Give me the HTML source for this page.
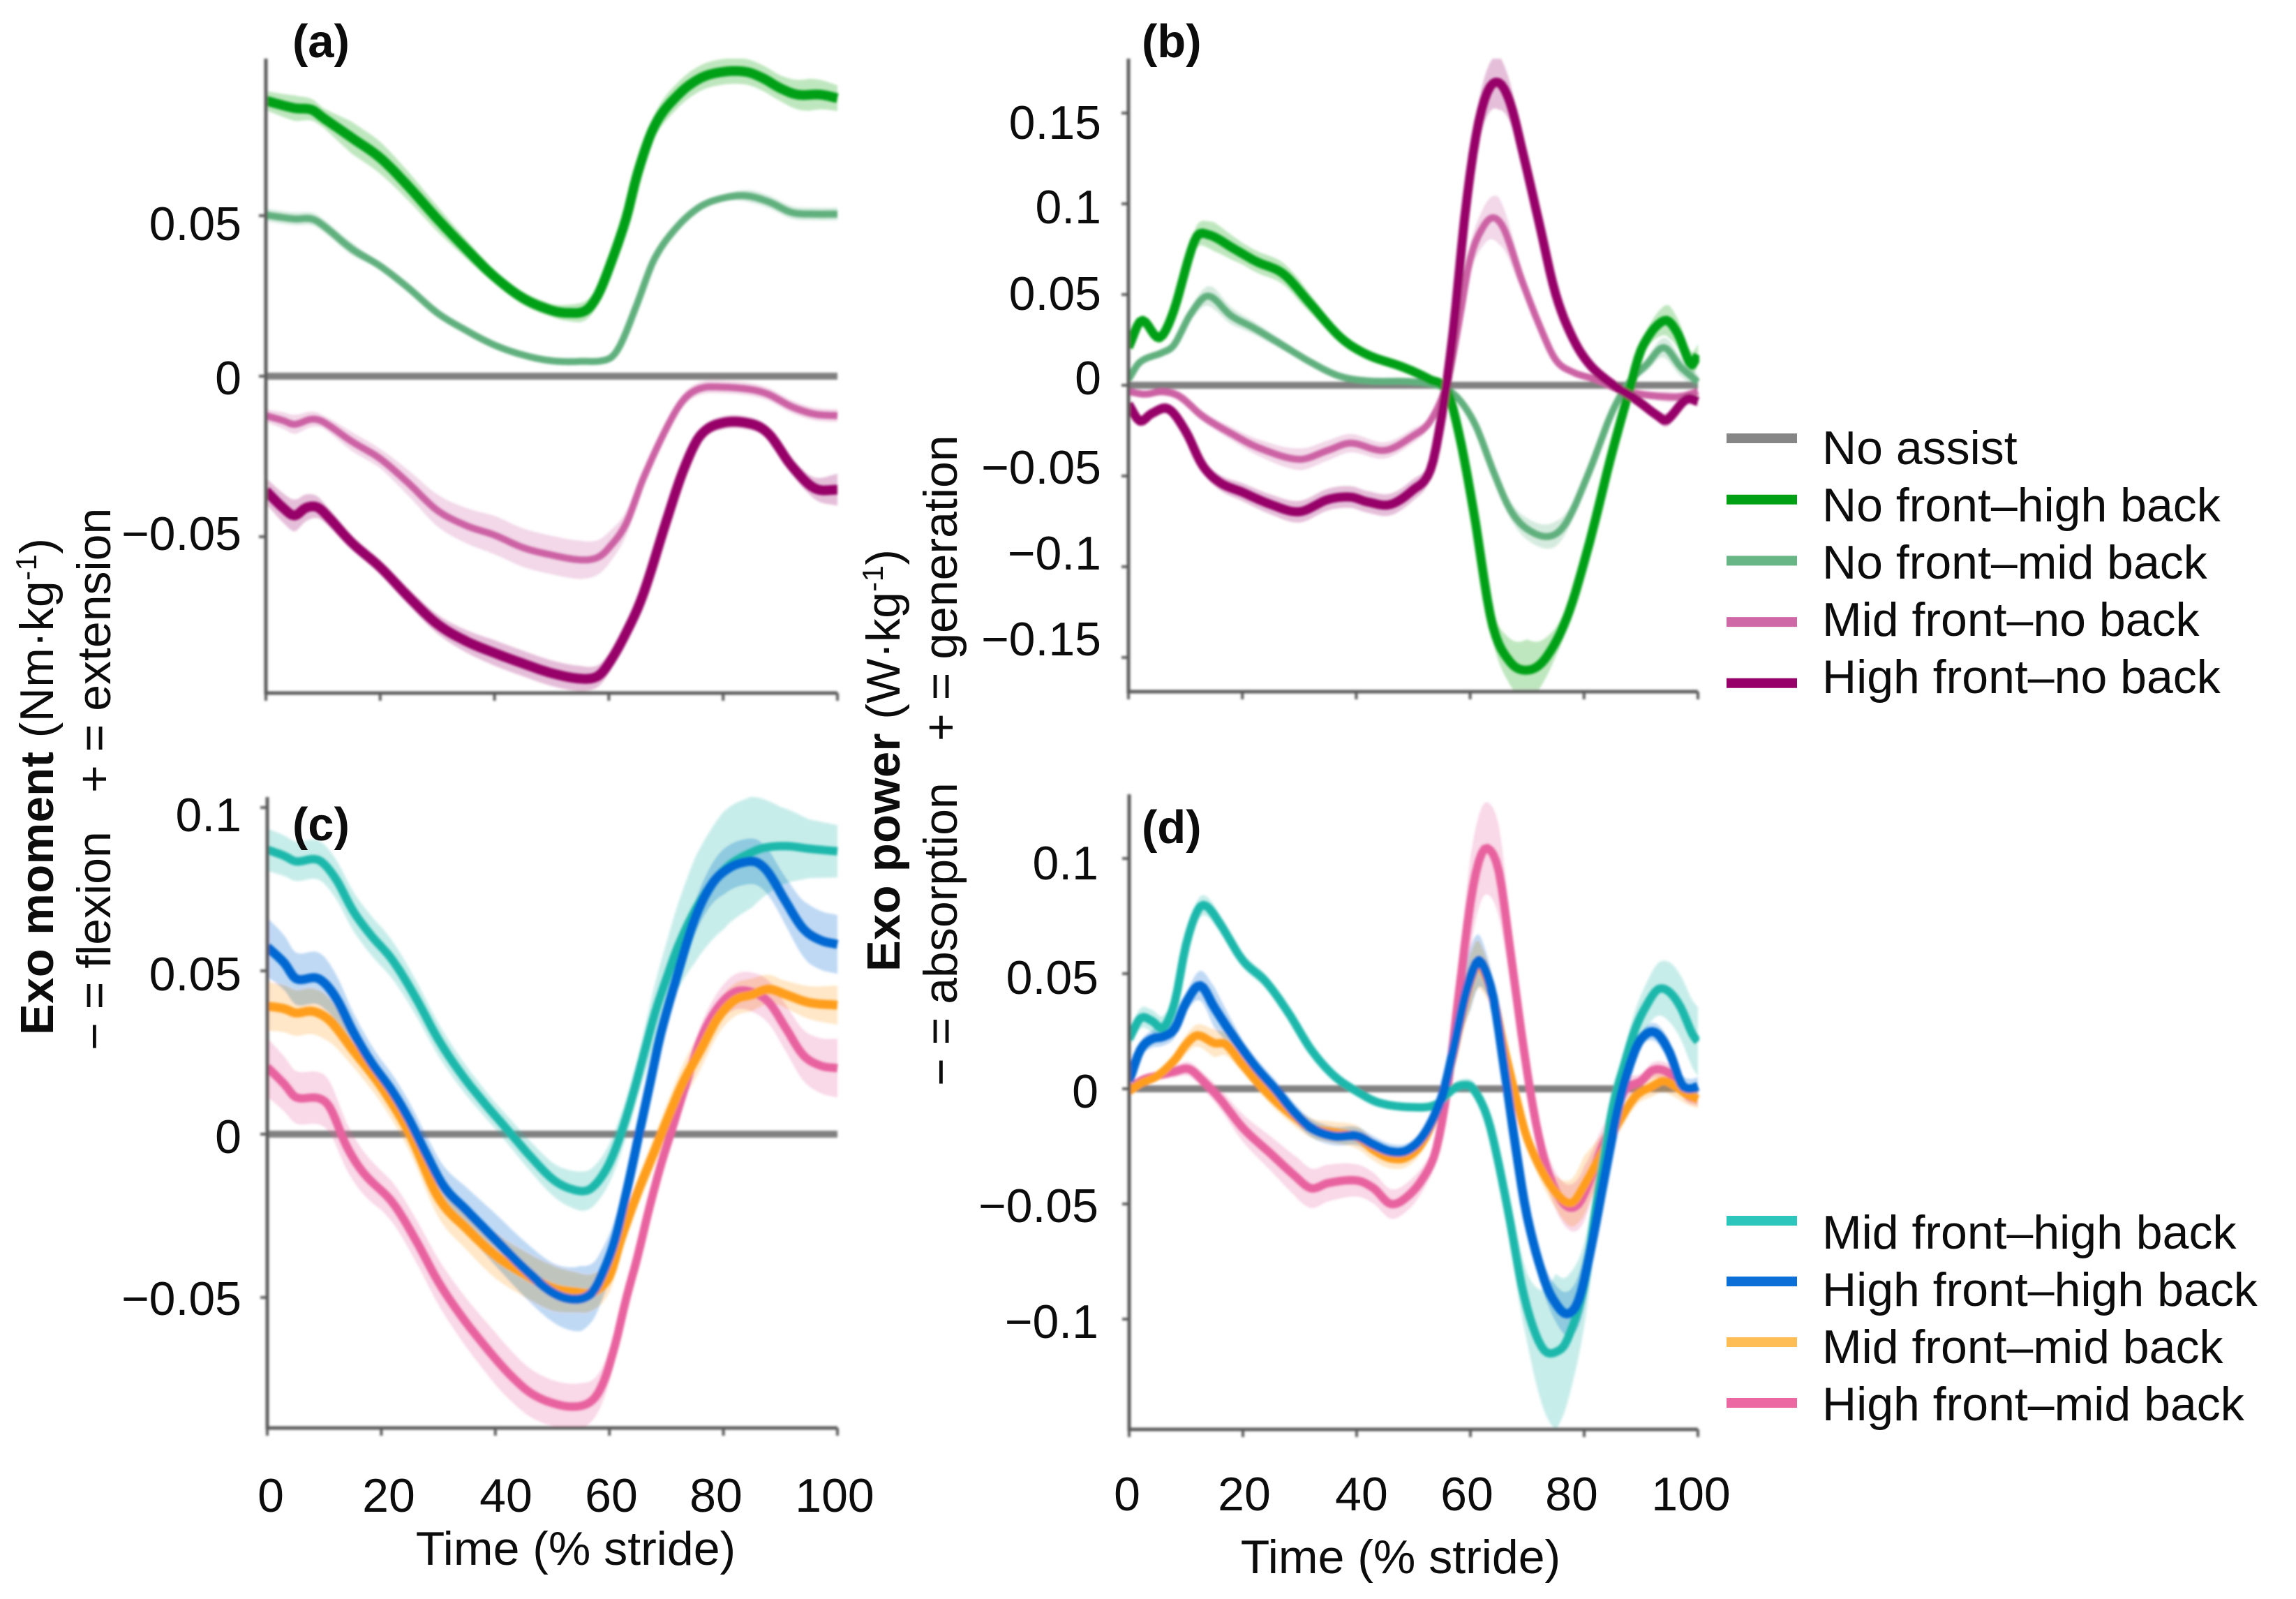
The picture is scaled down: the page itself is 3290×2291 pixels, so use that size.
<!DOCTYPE html>
<html lang="en">
<head>
<meta charset="utf-8">
<title>Exo moment and exo power across the stride</title>
<style>
  html, body { margin: 0; padding: 0; background: #fff; }
  svg { display: block; }
  text { font-family: "Liberation Sans", Arial, sans-serif; fill: #0c0c0c; font-size: 68px; }
  .b { font-weight: 700; font-size: 67px; }
  .band { mix-blend-mode: multiply; }
</style>
</head>
<body>
<svg id="figure" xmlns="http://www.w3.org/2000/svg" width="3290" height="2291" viewBox="0 0 3290 2291">
  <defs>
    <filter id="soft" x="-5%" y="-5%" width="110%" height="110%"><feGaussianBlur stdDeviation="1.5"/></filter>
    <clipPath id="clip-a"><rect x="381" y="84" width="821" height="909"/></clipPath>
    <clipPath id="clip-b"><rect x="1617" y="84" width="818" height="907"/></clipPath>
    <clipPath id="clip-c"><rect x="383" y="1142" width="819" height="904"/></clipPath>
    <clipPath id="clip-d"><rect x="1618" y="1138" width="817" height="910"/></clipPath>
  </defs>
  <rect x="0" y="0" width="3290" height="2291" fill="#fff"/>

  <g id="marks" filter="url(#soft)"></g>

  <g>
    <text class="b" x="419" y="82">(a)</text>
    <text class="b" x="1636" y="82">(b)</text>
    <text class="b" x="419" y="1204">(c)</text>
    <text class="b" x="1636" y="1208">(d)</text>
  </g>

  <g text-anchor="end">
    <text x="346" y="344">0.05</text>
    <text x="346" y="565">0</text>
    <text x="346" y="788">−0.05</text>
  </g>
  <g text-anchor="end">
    <text x="1578" y="199">0.15</text>
    <text x="1578" y="320">0.1</text>
    <text x="1578" y="444">0.05</text>
    <text x="1578" y="565">0</text>
    <text x="1578" y="693">−0.05</text>
    <text x="1578" y="816">−0.1</text>
    <text x="1578" y="939">−0.15</text>
  </g>
  <g text-anchor="end">
    <text x="346" y="1191">0.1</text>
    <text x="346" y="1419">0.05</text>
    <text x="346" y="1652">0</text>
    <text x="346" y="1884">−0.05</text>
  </g>
  <g text-anchor="end">
    <text x="1574" y="1260">0.1</text>
    <text x="1574" y="1424">0.05</text>
    <text x="1574" y="1587">0</text>
    <text x="1574" y="1751">−0.05</text>
    <text x="1574" y="1917">−0.1</text>
  </g>

  <g text-anchor="middle">
    <text x="388" y="2166">0</text>
    <text x="557" y="2166">20</text>
    <text x="725" y="2166">40</text>
    <text x="876" y="2166">60</text>
    <text x="1026" y="2166">80</text>
    <text x="1196" y="2166">100</text>
  </g>
  <g text-anchor="middle">
    <text x="1615" y="2164">0</text>
    <text x="1783" y="2164">20</text>
    <text x="1951" y="2164">40</text>
    <text x="2102" y="2164">60</text>
    <text x="2252" y="2164">80</text>
    <text x="2423" y="2164">100</text>
  </g>
  <text x="825" y="2242" text-anchor="middle" font-size="68.5">Time (% stride)</text>
  <text x="2007" y="2254" text-anchor="middle" font-size="68.5">Time (% stride)</text>

  <text transform="translate(76,1483) rotate(-90)" x="0" y="0" textLength="712"><tspan class="b">Exo moment</tspan> (Nm·kg<tspan font-size="42" dy="-24">-1</tspan><tspan dy="24">)</tspan></text>
  <text transform="translate(158,1505) rotate(-90)" x="0" y="0">− = flexion</text>
  <text transform="translate(158,1136) rotate(-90)" x="0" y="0">+ = extension</text>
  <text transform="translate(1289,1392) rotate(-90)" x="0" y="0" textLength="605"><tspan class="b">Exo power</tspan> (W·kg<tspan font-size="42" dy="-24">-1</tspan><tspan dy="24">)</tspan></text>
  <text transform="translate(1371,1556) rotate(-90)" x="0" y="0">− = absorption</text>
  <text transform="translate(1371,1062) rotate(-90)" x="0" y="0">+ = generation</text>

  <g id="legend-top"></g>
  <g id="legend-bottom"></g>

<script>
// ---------- Shared ticks and uncertainty knots ----------
const strideTicks = [0, 20, 40, 60, 80, 100];
const sdKnots = [0, 5, 10, 15, 20, 30, 40, 50, 55, 60, 65, 70, 75, 80, 85, 90, 95, 100];
const yTicksA = [0.05, 0, -0.05];
const yTicksB = [0.15, 0.1, 0.05, 0, -0.05, -0.1, -0.15];
const yTicksC = [0.1, 0.05, 0, -0.05];
const yTicksD = [0.1, 0.05, 0, -0.05, -0.1];

// ---------- Panel (a): exo moment ----------
const aNoHighPct = [0,5,8,10,15,20,25,30,35,40,45,50,53,56,58,60,63,65,68,72,76,80,84,87,90,93,97,100];
const aNoHighVal = [.0858,.0835,.083,.0805,.0743,.068,.059,.049,.0397,.031,.0243,.0205,.0197,.0205,.025,.0335,.049,.063,.078,.0874,.0928,.0948,.0948,.0928,.0897,.0877,.0877,.0866];
const aNoHighSd  = [.003,.004,.003,.005,.005,.004,.002,.002,.003,.003,.003,.004,.004,.004,.004,.004,.005,.004];
const aNoMidPct = [0,5,8,10,15,20,25,30,35,40,45,50,55,60,62,65,68,72,76,80,84,88,92,96,100];
const aNoMidVal = [.0502,.049,.049,.047,.0397,.0343,.0274,.0197,.0143,.0097,.0066,.0048,.0046,.0054,.0097,.0228,.0366,.0466,.0528,.0555,.0562,.0543,.051,.0505,.0505];
const aNoMidSd  = [.002,.002,.002,.002,.001,.001,.001,.001,.001,.001,.001,.001,.001,.001,.002,.002,.002,.002];
const aMidNoPct = [0,3,5,8,10,15,20,25,30,35,40,45,50,55,58,60,63,66,70,73,76,80,85,88,92,96,100];
const aMidNoVal = [-.0123,-.0138,-.015,-.0134,-.0142,-.0203,-.0257,-.0334,-.0418,-.0465,-.0495,-.0534,-.0557,-.0572,-.0565,-.0535,-.046,-.032,-.0165,-.0075,-.0038,-.0034,-.0042,-.0057,-.0095,-.0118,-.0123];
const aMidNoSd  = [.002,.003,.002,.003,.003,.005,.006,.006,.006,.005,.003,.002,.002,.002,.002,.002,.002,.002];
const aHighNoPct = [0,3,5,7,9,11,15,20,25,30,35,40,45,50,55,58,60,63,66,70,73,76,80,85,88,92,96,100];
const aHighNoVal = [-.0357,-.041,-.0434,-.041,-.0408,-.044,-.0518,-.0595,-.0688,-.0772,-.0825,-.0862,-.0895,-.0925,-.0942,-.0935,-.0895,-.08,-.068,-.0455,-.0295,-.0185,-.0145,-.0149,-.018,-.028,-.0349,-.0354];
const aHighNoSd  = [.004,.005,.003,.002,.002,.003,.004,.004,.004,.003,.002,.002,.002,.002,.002,.002,.003,.005];

// ---------- Panel (b): exo power ----------
const bNoHighPct = [0,2.3,5.4,7.8,11.7,14,18.7,22.5,27.2,31.9,37.3,42,48.2,52.9,56,58.3,60.7,63.8,66.9,70,73.1,77,80.9,84.8,87.9,90.2,94.1,96.4,98.8,100];
const bNoHighVal = [.0208,.0357,.0262,.0397,.0803,.083,.0749,.0681,.0614,.0451,.0262,.0168,.01,.0032,-.0035,-.0305,-.0711,-.1305,-.152,-.157,-.151,-.128,-.0873,-.0386,-.0035,.0208,.0357,.0289,.0114,.0168];
const bNoHighSd  = [.002,.003,.005,.008,.006,.006,.001,.001,.001,.002,.01,.017,.008,.003,.002,.004,.009,.006];
const bNoMidPct = [0,2,6,8,11,14,18,22,27,32,37,42,50,55,58,61,64,67,70,74,77,81,85,88,91,94,97,100];
const bNoMidVal = [.0032,.0127,.0181,.0222,.0397,.0492,.0384,.0316,.0222,.0127,.0051,.0024,.0019,-.0008,-.0076,-.0224,-.0468,-.0684,-.0792,-.0832,-.0751,-.0468,-.0143,.0019,.0114,.0208,.01,.0019];
const bNoMidSd  = [.001,.002,.003,.006,.004,.002,.001,.001,.001,.002,.004,.006,.007,.003,.002,.003,.006,.004];
const bMidNoPct = [0,3,6,9,13,18,23,30,35,39,45,50,53,56,58,60,62,64,66,69,72,75,78,82,86,90,94,97,100];
const bMidNoVal = [-.0035,-.0049,-.0035,-.0062,-.017,-.0265,-.0346,-.0408,-.0359,-.0319,-.0359,-.0278,-.0197,.0019,.0343,.0695,.0857,.0924,.0857,.0586,.0343,.0141,.0073,.0032,-.0022,-.0049,-.0062,-.0062,-.0035];
const bMidNoSd  = [.002,.002,.003,.003,.004,.006,.005,.004,.002,.008,.013,.004,.002,.001,.001,.002,.003,.002];
const bHighNoPct = [0,2,4,7,10,13,16,20,25,30,35,39,42,46,50,53,55,57,59,61,63,65,67,69,72,75,78,81,85,89,93,94.5,98,100];
const bHighNoVal = [-.0103,-.0197,-.0157,-.013,-.0251,-.0441,-.0535,-.0589,-.0657,-.0697,-.063,-.0616,-.0643,-.0657,-.0576,-.0468,-.017,.0289,.0911,.137,.1614,.1668,.156,.1316,.0911,.0505,.0262,.0114,.0005,-.0076,-.017,-.0192,-.0076,-.0089];
const bHighNoSd  = [.003,.003,.003,.004,.005,.006,.006,.006,.004,.01,.015,.005,.002,.001,.001,.002,.004,.003];

// ---------- Panel (c): exo moment ----------
const cMidHighPct = [0,3,5,9,12,15,18,22,26,30,34,38,42,46,50,53,56,58,60,62,64,66,68,70,72,75,78,81,84,87,91,95,100];
const cMidHighVal = [.0871,.0852,.0835,.0839,.0782,.0685,.0613,.0532,.0419,.029,.0185,.0097,.0016,-.0065,-.0137,-.0166,-.0173,-.0145,-.0089,0,.0113,.0242,.0371,.0476,.0573,.0685,.0766,.0823,.0855,.0876,.0882,.0874,.0866];
const cMidHighSd  = [.0065,.006,.006,.006,.006,.005,.004,.005,.006,.006,.006,.011,.016,.018,.017,.012,.009,.008];
const cHighHighPct = [0,3,5,9,12,15,18,22,25,28,31,35,40,45,50,54,57,59,61,63,65,67,69,72,75,78,81,84,86,88,91,94,97,100];
const cHighHighVal = [.0573,.0524,.0476,.0476,.0419,.0315,.0226,.0129,.004,-.0065,-.0161,-.0234,-.0323,-.0411,-.0484,-.0505,-.0484,-.0419,-.0323,-.0177,-.0016,.0145,.0306,.0492,.0661,.0766,.0815,.0834,.0831,.0798,.071,.0629,.0594,.0581];
const cHighHighSd  = [.009,.008,.008,.006,.005,.006,.008,.009,.01,.007,.004,.004,.005,.007,.007,.007,.009,.009];
const cMidMidPct = [0,3,5,8,11,15,20,25,30,35,40,45,50,54,57,60,62,65,68,71,73,76,79,82,85,88,91,95,100];
const cMidMidVal = [.0392,.0384,.0371,.0376,.0347,.0258,.0145,0,-.0194,-.029,-.0371,-.0427,-.0471,-.0484,-.0484,-.0435,-.0323,-.0177,-.0048,.0081,.0161,.0258,.0355,.0411,.0427,.0444,.0427,.0403,.0395];
const cMidMidSd  = [.0075,.007,.007,.005,.005,.006,.007,.007,.006,.005,.004,.005,.006,.005,.005,.004,.005,.006];
const cHighMidPct = [0,3,5,9,11,14,17,22,26,30,34,38,42,46,50,54,57,59,61,63,65,67,69,71,73,76,79,82,85,88,91,94,97,100];
const cHighMidVal = [.0205,.0153,.0113,.011,.0081,-.004,-.0121,-.021,-.0323,-.0452,-.0556,-.0645,-.0726,-.079,-.0823,-.0834,-.0815,-.0758,-.0645,-.05,-.0371,-.0226,-.0097,.0016,.0129,.029,.0387,.0435,.0435,.0403,.0323,.0242,.021,.0202];
const cHighMidSd  = [.009,.008,.008,.007,.006,.007,.008,.007,.007,.005,.004,.004,.004,.005,.006,.007,.008,.009];

// ---------- Panel (d): exo power ----------
const dMidHighPct = [0,2,4,6,8,10,12,13.5,16,20,24,28,32,36,40,44,50,54,57,59,60.5,63,65,67,69,71,73,75,77,80,82.5,85,87,89,91,93,95,97,99,100];
const dMidHighVal = [.0216,.0307,.0295,.0266,.0375,.0625,.0773,.0795,.0716,.0557,.0466,.033,.017,.0057,-.0011,-.0061,-.008,-.0068,0,.0016,0,-.0125,-.033,-.058,-.0852,-.1034,-.1136,-.1143,-.1091,-.0852,-.0443,-.008,.0102,.0261,.0364,.0432,.042,.0352,.0239,.0205];
const dMidHighSd  = [.004,.005,.005,.004,.003,.003,.002,.001,.002,.003,.006,.015,.034,.018,.005,.009,.013,.015];
const dHighHighPct = [0,2,4,6,8,10,12.5,15,18,22,26,29,32,36,40,43,46,49,52,55,57,59,61,62,64,66,68,70,73,75,77,79,81,84,86,88,90,92.5,95,97,98.5,100];
const dHighHighVal = [.0034,.017,.0216,.0227,.0261,.0375,.0448,.0352,.0239,.0102,-.0011,-.0102,-.017,-.0205,-.0205,-.0243,-.0273,-.0266,-.0193,-.0034,.017,.0398,.0545,.0545,.0398,.008,-.0261,-.0557,-.083,-.0932,-.0977,-.092,-.0716,-.033,-.008,.0102,.0216,.0245,.0159,.0023,0,.0011];
const dHighHighSd  = [.003,.004,.004,.009,.004,.004,.004,.003,.003,.014,.005,.004,.008,.012,.005,.003,.005,.004];
const dMidMidPct = [0,2,5,8,10,12,15,17,20,24,28,32,36,40,43,46,49,52,55,57,59,61,62,64,66,68,70,73,76,78,80,83,86,89,92,94,96,98,100];
const dMidMidVal = [-.0011,.0023,.0057,.0125,.0193,.0232,.0198,.0193,.0102,-.0011,-.0102,-.017,-.0189,-.0209,-.0266,-.0302,-.0295,-.0216,-.0034,.0148,.0375,.0534,.0523,.0398,.017,-.0034,-.0216,-.0375,-.0477,-.0493,-.042,-.0284,-.0148,-.0034,.0011,.0034,.0011,-.0023,-.0045];
const dMidMidSd  = [.002,.002,.004,.006,.003,.004,.005,.004,.003,.012,.006,.004,.007,.013,.005,.004,.005,.004];
const dHighMidPct = [0,2,5,8,10.5,13,16,20,25,29,32,35,40,43,46,49,52,54,56,58,60,61.5,63,65,67,69,71,73,75,77,79,81,83,85,87,90,92,94,96,98,100];
const dHighMidVal = [-.0011,.0034,.0057,.0075,.0086,.0034,-.0045,-.017,-.0284,-.0375,-.0432,-.0409,-.0398,-.0432,-.05,-.0466,-.0375,-.0261,.0011,.042,.0807,.0989,.1045,.0943,.0602,.0239,-.008,-.0307,-.0443,-.0511,-.05,-.0398,-.0261,-.0148,-.0011,.0034,.008,.008,.0045,-.0023,-.0045];
const dHighMidSd  = [.002,.002,.003,.004,.006,.009,.007,.006,.004,.02,.02,.006,.008,.012,.006,.003,.004,.003];

// ---------- Legend labels ----------
const legendTopLabels = ["No assist", "No front–high back", "No front–mid back", "Mid front–no back", "High front–no back"];
const legendBottomLabels = ["Mid front–high back", "High front–high back", "Mid front–mid back", "High front–mid back"];

// ---------- Styling ----------
const COLORS = {
  noAssist: "#808080", noHigh: "#00a014", noMid: "#60b07e", midNo: "#cc62a4", highNo: "#960068",
  midHigh: "#1fb8ac", highHigh: "#0068d2", midMid: "#ff9e1a", highMid: "#e8629f"
};
const LEGEND_COLORS_TOP = ["#868686", "#00a014", "#68b586", "#cf68a6", "#960068"];
const LEGEND_COLORS_BOTTOM = ["#2cc6bc", "#0a6fd6", "#ffbd55", "#ec68a2"];

const panels = [
  { id: "a", left: 381, right: 1200, top: 84, bottom: 993, zero: 539, per: 230, ticks: yTicksA, series: [
    { name: "no-front-mid-back", color: COLORS.noMid, width: 10, pct: aNoMidPct, val: aNoMidVal, sd: aNoMidSd },
    { name: "no-front-high-back", color: COLORS.noHigh, width: 14, pct: aNoHighPct, val: aNoHighVal, sd: aNoHighSd },
    { name: "mid-front-no-back", color: COLORS.midNo, width: 10, pct: aMidNoPct, val: aMidNoVal, sd: aMidNoSd },
    { name: "high-front-no-back", color: COLORS.highNo, width: 14, pct: aHighNoPct, val: aHighNoVal, sd: aHighNoSd }
  ]},
  { id: "b", left: 1617, right: 2433, top: 84, bottom: 991, zero: 552, per: 130, ticks: yTicksB, series: [
    { name: "no-front-mid-back", color: COLORS.noMid, width: 10, pct: bNoMidPct, val: bNoMidVal, sd: bNoMidSd },
    { name: "mid-front-no-back", color: COLORS.midNo, width: 10, pct: bMidNoPct, val: bMidNoVal, sd: bMidNoSd },
    { name: "no-front-high-back", color: COLORS.noHigh, width: 13, pct: bNoHighPct, val: bNoHighVal, sd: bNoHighSd },
    { name: "high-front-no-back", color: COLORS.highNo, width: 13, pct: bHighNoPct, val: bHighNoVal, sd: bHighNoSd }
  ]},
  { id: "c", left: 383, right: 1200, top: 1142, bottom: 2046, zero: 1625, per: 234, ticks: yTicksC, series: [
    { name: "high-front-mid-back", color: COLORS.highMid, width: 12, pct: cHighMidPct, val: cHighMidVal, sd: cHighMidSd },
    { name: "mid-front-mid-back", color: COLORS.midMid, width: 13, pct: cMidMidPct, val: cMidMidVal, sd: cMidMidSd },
    { name: "mid-front-high-back", color: COLORS.midHigh, width: 12, pct: cMidHighPct, val: cMidHighVal, sd: cMidHighSd },
    { name: "high-front-high-back", color: COLORS.highHigh, width: 13, pct: cHighHighPct, val: cHighHighVal, sd: cHighHighSd }
  ]},
  { id: "d", left: 1618, right: 2433, top: 1138, bottom: 2048, zero: 1560, per: 165, ticks: yTicksD, series: [
    { name: "high-front-mid-back", color: COLORS.highMid, width: 12, pct: dHighMidPct, val: dHighMidVal, sd: dHighMidSd },
    { name: "mid-front-mid-back", color: COLORS.midMid, width: 12, pct: dMidMidPct, val: dMidMidVal, sd: dMidMidSd },
    { name: "mid-front-high-back", color: COLORS.midHigh, width: 12, pct: dMidHighPct, val: dMidHighVal, sd: dMidHighSd },
    { name: "high-front-high-back", color: COLORS.highHigh, width: 13, pct: dHighHighPct, val: dHighHighVal, sd: dHighHighSd }
  ]}
];

const SVGNS = "http://www.w3.org/2000/svg";
function make(tag, parent) {
  const el = document.createElementNS(SVGNS, tag);
  parent.appendChild(el);
  return el;
}

// Hermite evaluation with finite-difference tangents
function evalCurve(xs, ys, x) {
  const n = xs.length;
  if (x <= xs[0]) return ys[0];
  if (x >= xs[n - 1]) return ys[n - 1];
  let i = 0;
  while (i < n - 2 && x > xs[i + 1]) i++;
  const h = xs[i + 1] - xs[i];
  const slope = k => {
    const a = Math.max(k - 1, 0), b = Math.min(k + 1, n - 1);
    return (ys[b] - ys[a]) / (xs[b] - xs[a]);
  };
  const t = (x - xs[i]) / h, t2 = t * t, t3 = t2 * t;
  return (2 * t3 - 3 * t2 + 1) * ys[i] + (t3 - 2 * t2 + t) * h * slope(i)
       + (-2 * t3 + 3 * t2) * ys[i + 1] + (t3 - t2) * h * slope(i + 1);
}
function evalLinear(xs, ys, x) {
  let i = 0;
  while (i < xs.length - 2 && x > xs[i + 1]) i++;
  const t = Math.min(1, Math.max(0, (x - xs[i]) / (xs[i + 1] - xs[i])));
  return ys[i] + t * (ys[i + 1] - ys[i]);
}

const marks = document.getElementById("marks");
panels.forEach(p => {
  const xScale = pct => p.left + (p.right - p.left) * pct / 100;
  const yScale = v => p.zero - v / 0.05 * p.per;

  const g = make("g", marks);
  
  

  // No assist baseline
  const base = make("line", g);
  
  
  base.setAttribute("x1", xScale(0));
  base.setAttribute("x2", xScale(100));
  base.setAttribute("y1", yScale(0));
  base.setAttribute("y2", yScale(0));
  base.setAttribute("stroke", COLORS.noAssist);
  base.setAttribute("stroke-width", 10);

  const clip = make("g", g);
  
  
  clip.setAttribute("clip-path", "url(#clip-" + p.id + ")");

  const samples = [];
  for (let s = 0; s <= 200; s++) samples.push(s / 2);

  p.series.forEach(s => {
    const upper = samples.map(x => xScale(x) + "," + yScale(evalCurve(s.pct, s.val, x) + evalLinear(sdKnots, s.sd, x)).toFixed(1));
    const lower = samples.map(x => xScale(x) + "," + yScale(evalCurve(s.pct, s.val, x) - evalLinear(sdKnots, s.sd, x)).toFixed(1)).reverse();
    const band = make("polygon", clip);
    
    
    band.setAttribute("class", "band");
    band.setAttribute("points", upper.concat(lower).join(" "));
    band.setAttribute("fill", s.color);
    band.setAttribute("fill-opacity", "0.25");
  });
  p.series.forEach(s => {
    const pts = samples.map(x => xScale(x).toFixed(1) + "," + yScale(evalCurve(s.pct, s.val, x)).toFixed(1));
    const line = make("polyline", clip);
    
    
    line.setAttribute("points", pts.join(" "));
    line.setAttribute("fill", "none");
    line.setAttribute("stroke", s.color);
    line.setAttribute("stroke-width", s.width);
    line.setAttribute("stroke-linejoin", "round");
  });

  // Axes
  const axis = make("path", g);
  
  
  axis.setAttribute("d", "M" + p.left + " " + p.top + "V" + p.bottom + "H" + p.right);
  axis.setAttribute("fill", "none");
  axis.setAttribute("stroke", "#5c5c5c");
  axis.setAttribute("stroke-width", 5);

  p.ticks.forEach(v => {
    const t = make("line", g);
    
    
    t.setAttribute("x1", p.left - 10);
    t.setAttribute("x2", p.left);
    t.setAttribute("y1", yScale(v));
    t.setAttribute("y2", yScale(v));
    t.setAttribute("stroke", "#5c5c5c");
    t.setAttribute("stroke-width", 4);
  });
  strideTicks.forEach(v => {
    const t = make("line", g);
    
    
    t.setAttribute("x1", xScale(v));
    t.setAttribute("x2", xScale(v));
    t.setAttribute("y1", p.bottom);
    t.setAttribute("y2", p.bottom + 11);
    t.setAttribute("stroke", "#5c5c5c");
    t.setAttribute("stroke-width", 4);
  });
});

// Legends
function drawLegend(groupId, labels, colors, lineYs, textYs) {
  const g = document.getElementById(groupId);
  labels.forEach((label, i) => {
    const l = make("line", g);
    
    
    l.setAttribute("x1", 2474);
    l.setAttribute("x2", 2575);
    l.setAttribute("y1", lineYs(i));
    l.setAttribute("y2", lineYs(i));
    l.setAttribute("stroke", colors[i]);
    l.setAttribute("stroke-width", 14);
    const t = make("text", g);
    
    
    t.setAttribute("x", 2611);
    t.setAttribute("y", textYs(i));
    t.setAttribute("font-size", "67.6");
    t.textContent = label;
  });
}
drawLegend("legend-top", legendTopLabels, LEGEND_COLORS_TOP, i => 628 + i * 87.7, i => 665 + i * 82);
drawLegend("legend-bottom", legendBottomLabels, LEGEND_COLORS_BOTTOM, i => 1749 + i * 87, i => 1789 + i * 82);
</script>
</svg>
</body>
</html>
